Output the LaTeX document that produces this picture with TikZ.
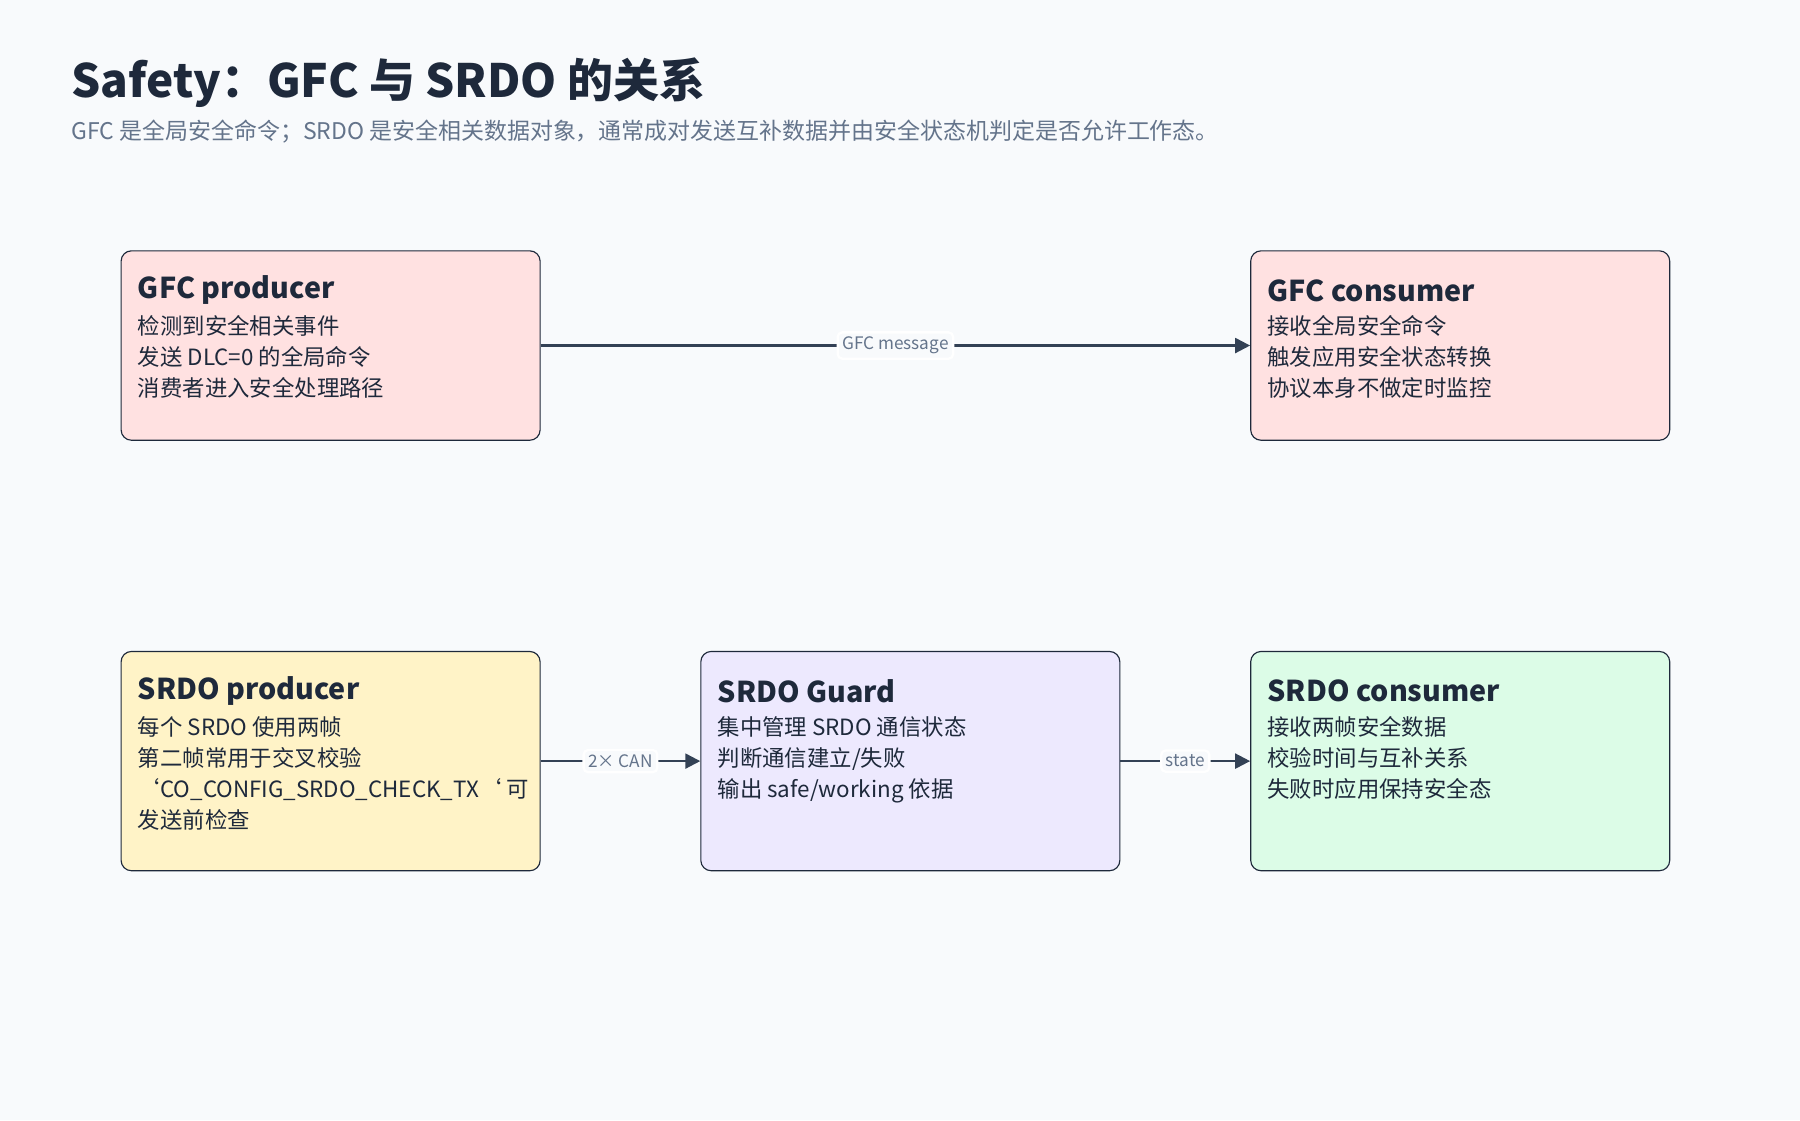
\documentclass[tikz,border=0pt]{standalone}
\usepackage{fontspec}
\setmainfont{Noto Sans CJK SC}
\usetikzlibrary{arrows.meta}
\definecolor{bg}{HTML}{F8FAFC}
\definecolor{ink}{HTML}{1E293B}
\definecolor{sub}{HTML}{64748B}
\definecolor{pk}{HTML}{FFE1E1}
\definecolor{yl}{HTML}{FFF3C7}
\definecolor{lv}{HTML}{EDE9FE}
\definecolor{gr}{HTML}{DCFCE7}
\definecolor{edge}{HTML}{334155}
\tikzset{
 box/.style={draw=ink,line width=1pt,rounded corners=9pt,minimum width=365pt,anchor=north west},
 ttl/.style={anchor=west,font=\fontsize{25}{30}\selectfont\bfseries,text=ink},
 body/.style={anchor=north west,font=\fontsize{19.5}{27}\selectfont,text=ink,align=left,inner sep=0pt},
 conn/.style={draw=edge,line width=2pt,-{Triangle[length=13pt,width=13pt]}},
 lbl/.style={fill=bg,draw=white,rounded corners=4pt,font=\fontsize{15}{18}\selectfont,text=sub,inner sep=4pt}
}
\begin{document}
\begin{tikzpicture}[x=1pt,y=-1pt]
\fill[bg] (0,0) rectangle (1568,976);
\useasboundingbox (0,0) rectangle (1568,976);
\node[anchor=west,inner sep=0pt,font=\fontsize{40}{48}\selectfont\bfseries,text=ink] (title) at (62,72) {Safety：GFC 与 SRDO 的关系};
\node[anchor=west,inner sep=0pt,font=\fontsize{20}{24}\selectfont,text=sub] (subt) at (62,115) {GFC 是全局安全命令；SRDO 是安全相关数据对象，通常成对发送互补数据并由安全状态机判定是否允许工作态。};

\node[box,fill=pk,minimum height=165pt] (gp) at (105,218) {};
\node[box,fill=pk,minimum height=165pt] (gc) at (1089,218) {};
\node[box,fill=yl,minimum height=191pt] (sp) at (105,567) {};
\node[box,fill=lv,minimum height=191pt] (sg) at (610,567) {};
\node[box,fill=gr,minimum height=191pt] (sc) at (1089,567) {};

\node[ttl,inner sep=0pt] (gpt) at (120,253) {GFC producer};
\node[body] (gpb) at (120,275) {检测到安全相关事件\\发送 DLC=0 的全局命令\\消费者进入安全处理路径};
\node[ttl,inner sep=0pt] (gct) at (1104,253) {GFC consumer};
\node[body] (gcb) at (1104,275) {接收全局安全命令\\触发应用安全状态转换\\协议本身不做定时监控};
\node[ttl,inner sep=0pt] (spt) at (120,602) {SRDO producer};
\node[body] (spb) at (120,624) {每个 SRDO 使用两帧\\第二帧常用于交叉校验\\`CO\_CONFIG\_SRDO\_CHECK\_TX` 可\\发送前检查};
\node[ttl,inner sep=0pt] (sgt) at (625,602) {SRDO Guard};
\node[body] (sgb) at (625,624) {集中管理 SRDO 通信状态\\判断通信建立/失败\\输出 safe/working 依据};
\node[ttl,inner sep=0pt] (sct) at (1104,602) {SRDO consumer};
\node[body] (scb) at (1104,624) {接收两帧安全数据\\校验时间与互补关系\\失败时应用保持安全态};

\draw[conn] (gp.east) -- node[lbl]{GFC message} (gc.west);
\draw[conn] (sp.east) -- node[lbl]{2× CAN} (sg.west);
\draw[conn] (sg.east) -- node[lbl]{state} (sc.west);
\end{tikzpicture}
\end{document}
